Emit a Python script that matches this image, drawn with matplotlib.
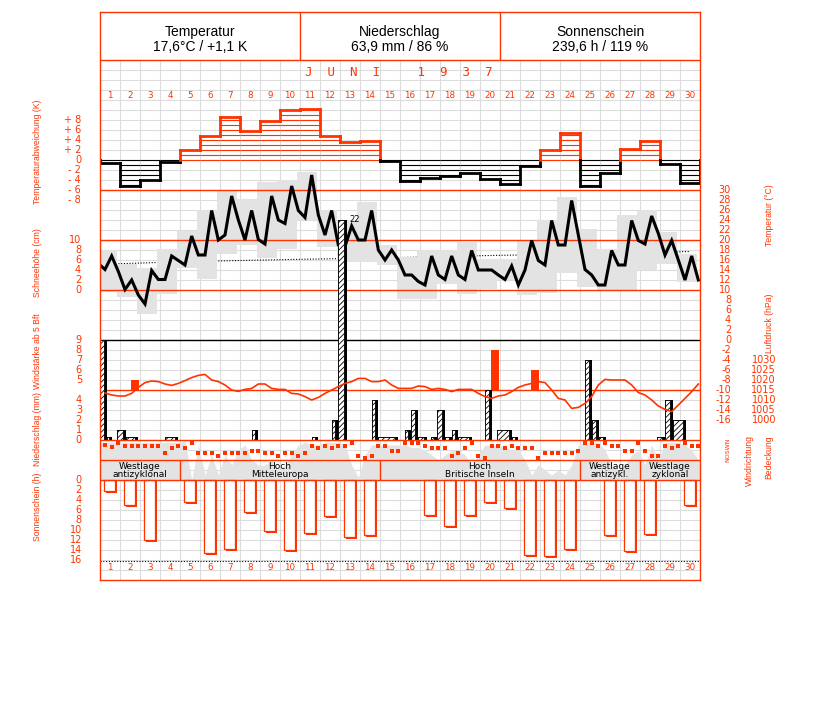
import numpy as np
import matplotlib
matplotlib.use("Agg")
import matplotlib.pyplot as plt

plt.rcParams['hatch.linewidth'] = 0.6
plt.rcParams['font.family'] = ['DejaVu Sans']

RED = '#ff3300'
GRAY = '#e3e3e3'
GRID = '#dcdcdc'
NARROW = 'Liberation Sans'

days = np.arange(1, 31)
obs_t = np.arange(90) / 3 + 0.25   # 7h / 14h / 21h readings, 0-based day time

header_titles = ['Temperatur', 'Niederschlag', 'Sonnenschein']
header_values = ['17,6°C / +1,1 K', '63,9 mm / 86 %', '239,6 h / 119 %']

# daily mean deviation from normal (K)
temp_dev = [-0.5, -5.2, -4.0, -0.3, 2.1, 4.8, 8.7, 5.9, 7.9, 10.0,
            10.2, 4.8, 3.7, 3.9, -0.1, -4.1, -3.5, -3.2, -2.5, -3.7,
            -4.7, -1.2, 2.0, 5.5, -5.1, -2.5, 2.3, 3.9, -0.7, -4.5]

# temperature at 7h/14h/21h (°C), first value = evening of 31 May
temp_start = 15.0
temp_obs = [14.1, 16.8, 13.7, 10.1, 12.0, 9.0, 7.2, 13.9, 12.1,
            12.1, 16.8, 15.9, 15.0, 20.8, 17.0, 17.0, 25.9, 20.0,
            21.0, 28.8, 24.0, 20.0, 25.9, 20.1, 19.2, 28.8, 24.0,
            23.3, 30.8, 25.9, 24.5, 33.0, 25.0, 21.0, 25.9, 19.0,
            18.7, 22.8, 20.0, 20.0, 25.9, 18.0, 16.0, 18.0, 16.0,
            13.0, 13.0, 11.7, 11.0, 16.8, 13.0, 12.1, 16.8, 13.0,
            12.1, 17.9, 14.0, 14.0, 14.0, 13.0, 12.1, 14.8, 11.0,
            14.0, 19.9, 15.9, 15.0, 23.9, 19.0, 19.0, 27.9, 21.0,
            14.1, 13.0, 11.0, 11.0, 17.9, 15.0, 15.0, 23.9, 19.9,
            19.2, 24.8, 21.3, 17.0, 19.9, 16.0, 12.0, 16.8, 12.0]

temp_max = [18.0, 15.3, 14.5, 18.3, 21.9, 26.1, 29.9, 28.3, 31.7, 32.0,
            33.7, 26.0, 24.0, 27.7, 19.0, 16.7, 18.0, 18.0, 19.7, 16.3,
            16.3, 20.1, 24.1, 28.7, 22.3, 18.3, 25.0, 26.1, 21.7, 17.2]
temp_min = [9.7, 8.7, 5.3, 9.3, 14.5, 12.3, 17.3, 19.0, 16.5, 18.3,
            24.1, 18.7, 15.7, 15.7, 15.0, 8.3, 8.3, 11.3, 9.3, 10.3,
            12.0, 9.0, 9.5, 13.5, 10.7, 10.0, 10.0, 14.0, 15.3, 11.7]

norm_day = [1, 5, 10, 15, 20, 25, 30]
norm_temp = [15.2, 15.7, 16.1, 16.45, 16.9, 17.25, 17.7]

# air pressure 7h/14h/21h (hPa)
pressure = [1013.5, 1012.5, 1012.0, 1012.0, 1013.3, 1016.3, 1018.7, 1019.5, 1019.2,
            1018.0, 1017.3, 1018.3, 1019.7, 1021.2, 1022.3, 1022.8, 1020.0, 1019.2,
            1017.5, 1015.0, 1014.3, 1015.3, 1015.8, 1018.0, 1018.0, 1015.8, 1015.3,
            1015.3, 1013.3, 1013.0, 1011.7, 1010.0, 1011.3, 1013.3, 1015.0, 1016.7,
            1018.3, 1019.2, 1020.8, 1020.8, 1019.2, 1019.2, 1020.0, 1017.5, 1015.8,
            1015.8, 1015.8, 1017.0, 1016.7, 1015.3, 1015.8, 1015.3, 1014.2, 1015.3,
            1015.3, 1015.3, 1013.3, 1011.7, 1010.8, 1012.0, 1012.5, 1014.2, 1016.3,
            1017.5, 1018.3, 1019.2, 1018.7, 1015.0, 1010.8, 1010.0, 1005.8, 1006.3,
            1008.3, 1011.7, 1017.5, 1020.3, 1020.0, 1020.0, 1020.0, 1017.5, 1013.7,
            1012.5, 1010.0, 1007.0, 1005.3, 1004.2, 1007.5, 1010.8, 1014.2, 1018.0]

# precipitation periods (0-based day time) and amounts (mm)
precip_from = [0.00, 0.35, 0.85, 1.30, 3.25, 7.60, 10.60, 11.60, 11.90, 13.60,
               13.90, 15.25, 15.55, 15.90, 16.55, 16.85, 17.25, 17.60, 17.90, 19.25,
               19.85, 20.60, 24.25, 24.60, 24.95, 27.85, 28.25, 28.65]
precip_to = [0.35, 0.60, 1.30, 1.90, 3.90, 7.90, 10.90, 11.90, 12.35, 13.90,
             14.90, 15.55, 15.90, 16.35, 16.85, 17.25, 17.60, 17.90, 18.60, 19.60,
             20.60, 20.90, 24.60, 24.95, 25.30, 28.25, 28.65, 29.30]
precip_mm = [10.0, 0.3, 1.0, 0.3, 0.3, 1.0, 0.3, 2.0, 22.0, 4.0,
             0.3, 1.0, 3.0, 0.3, 0.3, 3.0, 0.3, 1.0, 0.3, 5.0,
             1.0, 0.3, 8.0, 2.0, 0.3, 0.3, 4.0, 2.0]

# days with wind >= 5 Bft
wind_day = [2, 20, 22]
wind_bft = [5, 8, 6]

# wind direction 7h/14h/21h (degrees)
wind_dir = [270, 240, 315, 248, 248, 248, 248, 248, 248, 135, 225, 248,
            225, 315, 135, 135, 135, 68, 135, 135, 135, 135, 160, 160,
            135, 135, 68, 135, 135, 68, 135, 248, 225, 248, 225, 248,
            248, 315, 68, 45, 68, 248, 248, 160, 160, 315, 315, 315,
            248, 225, 225, 225, 68, 135, 225, 315, 68, 45, 248, 248,
            225, 248, 225, 225, 225, 45, 135, 135, 135, 135, 135, 160,
            315, 315, 248, 315, 248, 248, 160, 160, 315, 160, 68, 68,
            248, 225, 248, 315, 248, 248]

# cloud cover 7h/14h/21h (octas)
cloud = [7.5, 7.5, 7.5, 7.5, 7.5, 7.5, 7.5, 7.5, 7.5, 7.5, 7.5, 7.5,
         8, 0, 7, 1, 5, 1, 5, 3, 6, 7, 4, 3,
         3, 4, 2, 3, 5, 7, 7.5, 7, 7, 7.5, 7.5, 7.5,
         7, 3, 0.5, 5, 7, 7, 7, 7, 7, 7, 6.5, 6.5,
         6, 5, 4, 5, 6, 6, 5, 3, 5, 7, 7, 7,
         6.5, 6, 6, 4, 1, 3, 2, 1, 2, 1, 3, 7,
         7.5, 7.5, 7.5, 6, 3, 2, 3, 5, 6, 3, 7, 4,
         7.5, 7.5, 7.5, 7, 6, 4]

sun_h = [2.2, 4.9, 11.9, 0, 4.3, 14.5, 13.7, 6.4, 10.1, 13.9,
         10.5, 7.1, 11.3, 10.9, 0, 0, 6.9, 9.1, 6.9, 4.3,
         5.5, 14.9, 15.1, 13.7, 0, 10.9, 14.1, 10.7, 0, 4.9]
sun_possible = 16.2

wt_label = ['Westlage\nantizyklonal', 'Hoch\nMitteleuropa', 'Hoch\nBritische Inseln',
            'Westlage\nantizykl.', 'Westlage\nzyklonal']
wt_first = [1, 5, 15, 25, 28]
wt_last = [4, 14, 24, 27, 30]

# ---- figure, one shared rectangle, one layer per quantity ----
W, H = 827, 702
L, R, T, B = 100, 700, 12, 580
fig = plt.figure(figsize=(W / 100, H / 100), dpi=100)
rect = [L / W, 1 - B / H, (R - L) / W, (B - T) / H]


def layer(y0, v0, px):
    # value v0 sits on pixel row y0, px pixels per unit
    a = fig.add_axes(rect)
    a.set_xlim(0, 30)
    a.set_ylim(v0 + (y0 - B) / px, v0 + (y0 - T) / px)
    a.axis('off')
    a.patch.set_visible(False)
    return a


def px2x(x):
    return (x - L) / 20.0


def ticks(a, values, xpix, fmt=str, size=7):
    for v in values:
        a.text(px2x(xpix), v, fmt(v), ha='right', va='center', color=RED, fontsize=size)


# base grid (pixel rows)
base = layer(0, 0, -1)
base.hlines(np.arange(70, 580, 10), 0, 30, color=GRID, lw=0.8)
base.vlines(np.arange(1, 30), 60, 580, color=GRID, lw=0.8)
for d in days:
    base.text(d - 0.5, 95, str(d), ha='center', va='center', color=RED, fontsize=6.3)
    base.text(d - 0.5, 567, str(d), ha='center', va='center', color=RED, fontsize=6.3)
base.text(14.93, 73, 'J  U  N  I     1  9  3  7', ha='center', va='center',
          color=RED, fontsize=9, family='DejaVu Sans Mono')
for i in range(3):
    base.text(10 * i + 5, 32, header_titles[i], ha='center', va='center',
              fontsize=10, family='Liberation Sans')
    base.text(10 * i + 5, 47, header_values[i], ha='center', va='center',
              fontsize=10, family='Liberation Sans')

for txt, xp, yp in [('Temperaturabweichung (K)', 37, 152), ('Schneehöhe (cm)', 37, 263),
                    ('Windstärke ab 5 Bft', 37, 351), ('Niederschlag (mm)', 37, 429),
                    ('Sonnenschein (h)', 37, 507), ('Temperatur (°C)', 770, 215),
                    ('Luftdruck (hPa)', 770, 323), ('Windrichtung', 749, 461),
                    ('Bedeckung', 769, 457)]:
    base.text(px2x(xp), yp, txt, rotation=90, ha='center', va='center',
              color=RED, fontsize=6.2, family=NARROW)

# temperature (°C)
temp = layer(340, 0, 5)
temp.plot(np.array(norm_day) - 0.5, norm_temp, color='k', lw=0.8, ls=(0, (1, 1.5)), zorder=1)
temp.bar(days - 1.13, np.array(temp_max) - np.array(temp_min), bottom=temp_min,
         width=1, align='edge', color=GRAY, zorder=2)
for v in [30, 20, 10, -10]:
    temp.axhline(v, color=RED, lw=1, zorder=3)
temp.axhline(0, color='k', lw=1, zorder=3)
temp.plot(np.r_[0, obs_t], np.r_[temp_start, temp_obs], color='k', lw=2.2, zorder=4,
          solid_joinstyle='miter')
ticks(temp, range(30, -17, -2), 731)

# temperature deviation (K)
dev = layer(160, 0, 5)


def col(v):
    return RED if v > 0 else 'black'


prev = 0.0
for d, v in zip(days, temp_dev):
    lev = np.arange(0, abs(v), 1.0) * (1 if v > 0 else -1)
    dev.hlines(lev, d - 1, d, color=col(v), lw=0.8)
    if prev * v > 0:
        dev.plot([d - 1, d - 1], [prev, v], color=col(v), lw=2, solid_capstyle='projecting')
    else:
        dev.plot([d - 1, d - 1], [prev, 0], color=col(prev), lw=2, solid_capstyle='projecting')
        dev.plot([d - 1, d - 1], [0, v], color=col(v), lw=2, solid_capstyle='projecting')
    dev.plot([d - 1, d], [v, v], color=col(v), lw=2, solid_capstyle='projecting')
    prev = v
dev.plot([30, 30], [prev, 0], color=col(prev), lw=2)
ticks(dev, [8, 6, 4, 2, 0, -2, -4, -6, -8], 81,
      lambda v: ('+ %d' % v) if v > 0 else ('- %d' % -v if v < 0 else '0'))

# snow depth (cm) - scale only
snow = layer(290, 0, 5)
ticks(snow, [10, 8, 6, 4, 2, 0], 81)

# cloud cover (octas)
cl = layer(480, 0, 5)
cl.fill_between(np.r_[0, obs_t, 30], 0, np.r_[cloud[0], cloud, cloud[-1]],
                color=GRAY, lw=0)

# wind direction (deg)
wd = layer(460, 0, 20 / 360)
wd.plot(obs_t, wind_dir, 's', color=RED, ms=2.2, mew=0)
wd.text(px2x(728), 180, 'NOSWN', rotation=90, ha='center', va='center',
        color=RED, fontsize=4.5)

# precipitation (mm)
pr = layer(440, 0, 10)
pf = np.array(precip_from)
pw = np.array(precip_to) - pf
pr.bar(pf, precip_mm, width=pw, align='edge', color='k', lw=0, zorder=2)
pr.bar(pf, precip_mm, width=np.maximum(pw - 0.15, 0.08), align='edge', facecolor='white',
       edgecolor='k', hatch='//////', lw=0.6, zorder=3)
imax = int(np.argmax(precip_mm))
pr.text(precip_to[imax] + 0.1, precip_mm[imax], '%d' % precip_mm[imax],
        ha='left', va='center', fontsize=6)
ticks(pr, [4, 3, 2, 1, 0], 82)

# air pressure (hPa)
ps = layer(390, 1015, 2)
ps.plot(obs_t, pressure, color=RED, lw=1.2)
ticks(ps, range(1030, 999, -5), 776)

# wind force (Bft)
wn = layer(430, 0, 10)
wn.bar(np.array(wind_day) - 0.45, np.array(wind_bft) - 4, bottom=4, width=0.4,
       align='edge', color=RED, lw=0)
ticks(wn, [9, 8, 7, 6, 5], 82)

# sunshine (h), bars hang down
sn = layer(480, 0, -5)
sun = np.array(sun_h)
has = sun > 0
sn.bar(days[has] - 0.8 + 0.11, sun[has] + 0.45, width=0.525, align='edge', color=RED, lw=0)
sn.bar(days[has] - 0.8, sun[has], width=0.525, align='edge', facecolor='white',
       edgecolor=RED, lw=0.9)
sn.axhline(sun_possible, color='k', lw=0.8, ls=(0, (1, 1.5)))
ticks(sn, range(0, 17, 2), 82)

# frame and separators on top
top = layer(0, 0, -1)
top.axis('on')
top.set_xticks([])
top.set_yticks([])
for s in top.spines.values():
    s.set_color(RED)
    s.set_linewidth(1)
top.hlines([60, 440, 460, 480], 0, 30, color=RED, lw=1)
top.vlines([10, 20], 12, 60, color=RED, lw=1)
top.vlines(wt_last[:-1], 460, 480, color=RED, lw=1)
for lab, a, b in zip(wt_label, wt_first, wt_last):
    top.text((a - 1 + b) / 2, 470.5, lab, ha='center', va='center', fontsize=6.5,
             linespacing=0.95)

fig.savefig('out.png', dpi=100)
